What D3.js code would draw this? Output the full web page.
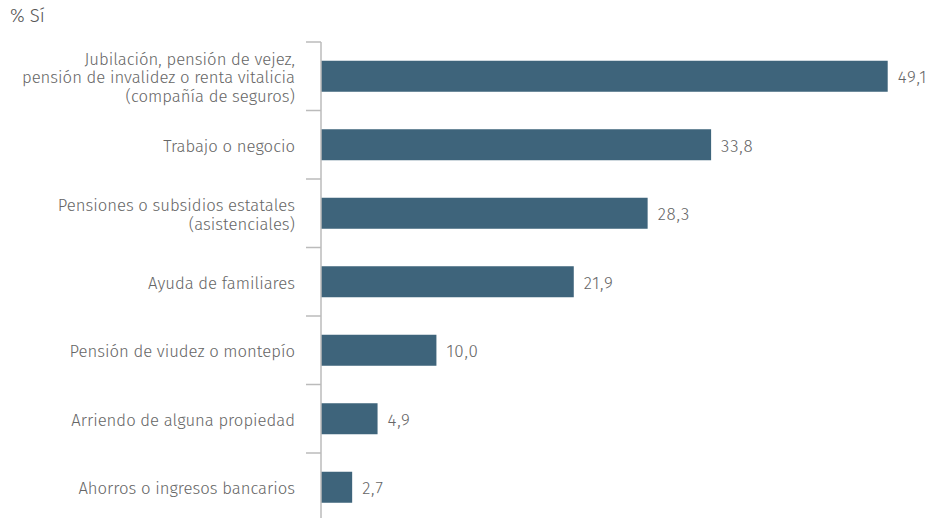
<!DOCTYPE html>
<html>
<head>
<meta charset="utf-8">
<script src="https://cdn.jsdelivr.net/npm/d3@7"></script>
<style>
  body { margin: 0; background: #fff; }
  text { font-family: "Fira Sans", "Open Sans", "Noto Sans", sans-serif; font-weight: 300; }
</style>
</head>
<body>
<div id="chart"></div>
<script>
const categories = [
  ["Jubilación, pensión de vejez,", "pensión de invalidez o renta vitalicia", "(compañía de seguros)"],
  ["Trabajo o negocio"],
  ["Pensiones o subsidios estatales", "(asistenciales)"],
  ["Ayuda de familiares"],
  ["Pensión de viudez o montepío"],
  ["Arriendo de alguna propiedad"],
  ["Ahorros o ingresos bancarios"]
];
const values = [49.1, 33.8, 28.3, 21.9, 10.0, 4.9, 2.7];
const title = "% Sí";

const width = 931, height = 518;
const axisX = 321;
const barColor = "#3e647b";
const textColor = "#666";

const es = d3.formatLocale({ decimal: ",", thousands: ".", grouping: [3], currency: ["", "€"] });
const fmt = es.format(".1f");

const svg = d3.select("#chart").append("svg")
  .attr("width", width)
  .attr("height", height);

const idx = d3.range(categories.length);

// one row per category, ticks sit on row boundaries
const row = d3.scaleBand().domain(idx).range([42, 42 + 68.5 * categories.length]).paddingInner(0);
const x = d3.scaleLinear().domain([0, 49.1]).range([axisX, 887.7]);
const barH = 31;

svg.append("text")
  .attr("x", 10)
  .attr("y", 22)
  .attr("fill", "#555")
  .style("font-size", "18.5px")
  .text(title);

// bars
svg.append("g").selectAll("rect")
  .data(idx)
  .join("rect")
  .attr("x", x(0))
  .attr("y", (i) => row(i) + row.bandwidth() / 2 - barH / 2)
  .attr("width", (i) => x(values[i]) - x(0))
  .attr("height", barH)
  .attr("fill", barColor);

// axis line + ticks
svg.append("line")
  .attr("x1", axisX).attr("x2", axisX)
  .attr("y1", row(0)).attr("y2", height)
  .attr("stroke", "#bbb")
  .attr("stroke-width", 1.5);

svg.append("g").selectAll("line")
  .data(idx)
  .join("line")
  .attr("x1", 306).attr("x2", axisX)
  .attr("y1", (i) => row(i)).attr("y2", (i) => row(i))
  .attr("stroke", "#bbb")
  .attr("stroke-width", 1.5);

// category labels
const lineH = 18.5;
svg.append("g").selectAll("text")
  .data(idx)
  .join("text")
  .attr("text-anchor", "end")
  .attr("fill", textColor)
  .style("font-size", "16.7px")
  .each(function (i) {
    const lines = categories[i];
    const cy = row(i) + row.bandwidth() / 2;
    const y0 = cy - ((lines.length - 1) * lineH) / 2 + 7;
    d3.select(this).selectAll("tspan")
      .data(lines)
      .join("tspan")
      .attr("x", 295)
      .attr("y", (d, j) => y0 + j * lineH)
      .text((d) => d);
  });

// value labels
svg.append("g").selectAll("text")
  .data(idx)
  .join("text")
  .attr("x", (i) => x(values[i]) + 10)
  .attr("y", (i) => row(i) + row.bandwidth() / 2 + 7)
  .attr("fill", textColor)
  .style("font-size", "17px")
  .style("letter-spacing", "0.8px")
  .text((i) => fmt(values[i]));
</script>
</body>
</html>
